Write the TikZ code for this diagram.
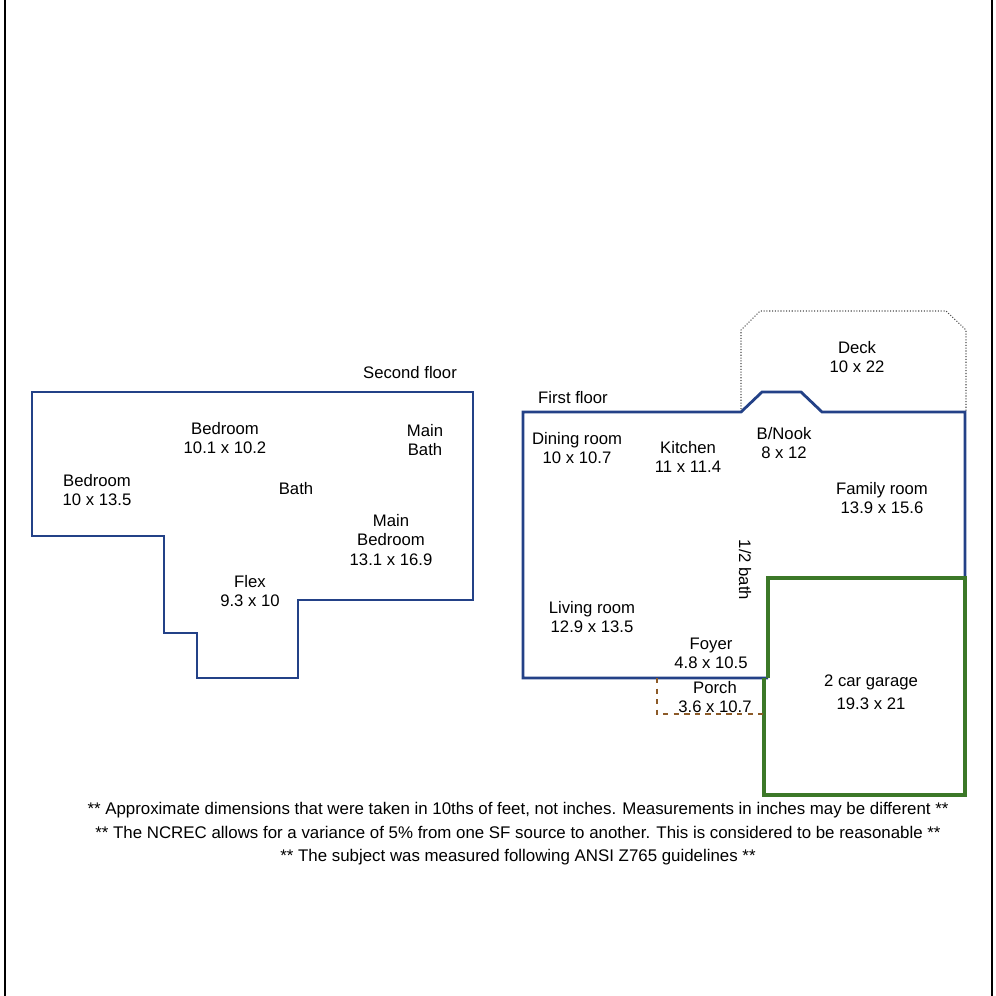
\documentclass[tikz,border=0pt]{standalone}
\usepackage{fontspec}
\setmainfont{Liberation Sans}
\definecolor{wallblue}{RGB}{35,65,135}
\definecolor{garagegreen}{RGB}{60,120,40}
\definecolor{porchbrown}{RGB}{140,90,40}
\tikzset{
  wall/.style={wallblue, line width=1.6pt},
  garage/.style={garagegreen, line width=2pt},
  label/.style={align=center, font=\fontsize{9.5}{11}\selectfont},
  note/.style={font=\fontsize{9.6}{11}\selectfont}
}
\begin{document}
\begin{tikzpicture}[x=0.02cm, y=-0.02cm]
    \useasboundingbox (0,0) rectangle (996,996);
    % Page frame
    \draw[thick] (5,0) -- (5,996);
    \draw[thick] (992,0) -- (992,996);

    % Second floor
    \draw[wall] (32,392) -- (473,392) -- (473,600) -- (298,600) -- (298,678)
        -- (197,678) -- (197,633) -- (164,633) -- (164,536) -- (32,536) -- cycle;
    \node[label] (sfl) at (410,373) {Second floor};
    \node[label] (bedA) at (225,438) {Bedroom\\10.1 x 10.2};
    \node[label] (bedB) at (97,490) {Bedroom\\10 x 13.5};
    \node[label] (mbath) at (425,440) {Main\\Bath};
    \node[label] (bath) at (296,489) {Bath};
    \node[label] (mbed) at (391,540) {Main\\Bedroom\\13.1 x 16.9};
    \node[label] (flex) at (250,591) {Flex\\9.3 x 10};

    % Deck
    \draw[densely dotted, gray!60!black, semithick] (741,412) -- (741,330) -- (760,311)
        -- (946,311) -- (966,330) -- (966,412);
    \node[label] (deck) at (857,357) {Deck\\10 x 22};

    % First floor
    \draw[wall] (768,678) -- (523,678) -- (523,412) -- (741,412) -- (762,392)
        -- (801,392) -- (822,412) -- (965,412) -- (965,578);
    \draw[garage] (768,678) -- (768,578) -- (965,578) -- (965,795) -- (764,795) -- (764,678);
    \draw[dashed, porchbrown, semithick] (657,678) -- (657,714) -- (764,714);
    \node[label] (ffl) at (573,398) {First floor};
    \node[label] (dining) at (577,448) {Dining room\\10 x 10.7};
    \node[label] (kitchen) at (688,457) {Kitchen\\11 x 11.4};
    \node[label] (nook) at (784,443) {B/Nook\\8 x 12};
    \node[label] (family) at (882,498) {Family room\\13.9 x 15.6};
    \node[label, rotate=-90] (hbath) at (745,570) {1/2 bath};
    \node[label] (living) at (592,617) {Living room\\12.9 x 13.5};
    \node[label] (foyer) at (711,653) {Foyer\\4.8 x 10.5};
    \node[label] (porch) at (715,697) {Porch\\3.6 x 10.7};
    \node[label] (gar) at (871,692) {2 car garage\\[2pt]19.3 x 21};

    % Notes
    \node[note] (noteA) at (518,810) {** Approximate dimensions that were taken in 10ths of feet, not inches. Measurements in inches may be different **};
    \node[note] (noteB) at (518,832) {** The NCREC allows for a variance of 5\% from one SF source to another. This is considered to be reasonable **};
    \node[note] (noteC) at (518,857) {** The subject was measured following ANSI Z765 guidelines **};
\end{tikzpicture}
\end{document}
